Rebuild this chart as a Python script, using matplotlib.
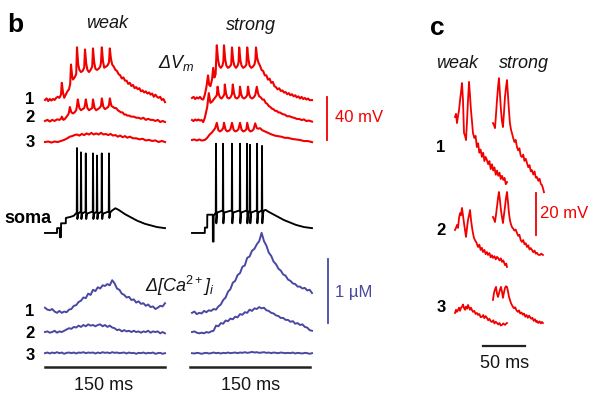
import numpy as np
import matplotlib
matplotlib.use("Agg")
import matplotlib.pyplot as plt

plt.rcParams["font.family"] = "Liberation Sans"
plt.rcParams["mathtext.fontset"] = "custom"
plt.rcParams["mathtext.rm"] = "Liberation Sans"
plt.rcParams["mathtext.it"] = "Liberation Sans:italic"
plt.rcParams["mathtext.default"] = "it"

# ---- data: (time ms, membrane potential mV) ----
vm_weak_1 = [(0, 0), (2, 1.5), (4, -1), (6, 1), (8, -0.5), (10, 1), (12, 0), (14, 2), (16, 3), (18, 2),
             (20, 5), (21, 16), (22.5, 7), (24, 2), (26, 5), (28, 8), (30, 10), (31.5, 15), (32.5, 33),
             (34, 22), (35, 19), (37, 21), (39, 24), (40, 49), (41.5, 33), (43, 28), (45, 26), (47, 27),
             (49, 30), (50, 47), (51.5, 34), (53, 28), (55, 26), (57, 28), (59, 31), (60, 48), (61.5, 35),
             (63, 29), (65, 28), (67, 29), (69, 31), (70, 35), (71, 49), (72.5, 36), (74, 30), (76, 31),
             (78, 32), (80, 35), (81, 48), (82.5, 38), (84, 33), (86, 31), (88, 28), (90, 27), (92, 24),
             (94, 23), (96, 20), (98, 21), (100, 18), (102, 18), (104, 15), (106, 16), (108, 13), (110, 14),
             (112, 11), (114, 12), (116, 10), (118, 11), (120, 8), (122, 9), (124, 7), (126, 8), (128, 6),
             (130, 7), (132, 5), (134, 6), (136, 3), (138, 5), (140, 3), (142, 2), (144, 3), (146, 0),
             (148, 1), (150, -2)]
vm_weak_2 = [(0, 0), (3, 1), (6, -0.5), (9, 1), (12, 0), (15, 1.5), (18, 1), (20, 2), (21, 4), (23, 1),
             (25, 2), (27, 4), (29, 6), (30, 8), (31, 13), (33, 8), (35, 7), (37, 8), (39, 10), (40, 14),
             (41, 20), (43, 12), (45, 10), (47, 11), (49, 12), (50, 15), (51, 20), (53, 12), (55, 10),
             (57, 11), (59, 12), (60, 20), (62, 12), (64, 10), (66, 11), (68, 12), (70, 14), (71, 21),
             (73, 13), (75, 11), (77, 12), (79, 13), (80, 15), (81, 21), (83, 14), (85, 13), (87, 12),
             (89, 12), (91, 10), (93, 9), (95, 8), (97, 8), (99, 6), (101, 6), (103, 5), (105, 5), (108, 4),
             (111, 4), (114, 3), (117, 3), (120, 2), (123, 3), (126, 1), (129, 2), (132, 1), (135, 1),
             (138, 0), (141, 1), (144, -1), (147, 0), (150, -1)]
vm_weak_3 = [(0, 0), (4, 0.5), (8, -0.5), (12, 0.5), (16, 0), (20, 1), (24, 2), (28, 3.5), (31, 5),
             (34, 5.5), (37, 6.5), (40, 7), (43, 6), (46, 7.5), (49, 6.5), (52, 8), (55, 7), (58, 8.5),
             (61, 7), (64, 8), (67, 7), (70, 8.5), (73, 7), (76, 7.5), (79, 6.5), (82, 7.5), (85, 6),
             (88, 6.5), (91, 5), (94, 6), (97, 4.5), (100, 5.5), (103, 4), (106, 5), (110, 3.5), (114, 3.5),
             (118, 2.5), (122, 3), (126, 1.5), (130, 2), (134, 1), (138, 1.5), (142, 0), (146, 1), (150, 0)]

vm_strong_1 = [(0, 0), (2, 1), (4, -1), (6, 0.5), (8, -0.5), (10, 1), (12, -1), (14, -1.5), (16, 3),
               (18, 10), (20, 21), (21.5, 12), (23, 11), (25, 17), (26.5, 28), (28, 19), (29.5, 22),
               (31, 49), (32.5, 36), (34, 30), (36, 28), (38, 30), (39.2, 34), (40, 49), (41.5, 36),
               (43, 30), (45, 28), (47, 29), (49, 31), (50, 47), (51.5, 35), (53, 30), (55, 28), (57, 30),
               (58.2, 33), (59, 47), (60.5, 35), (62, 30), (64, 28), (66, 29), (68, 31), (69, 47),
               (70.5, 36), (72, 30), (74, 28), (76, 29), (78, 31), (79.2, 35), (80, 47), (81.5, 37),
               (83, 33), (85, 30), (87, 26), (89, 25), (91, 21), (93, 21), (95, 17), (97, 18), (99, 14),
               (101, 15), (103, 11), (105, 10), (107, 8), (109, 9), (111, 6.5), (113, 7), (115, 5),
               (117, 5.5), (119, 3.5), (121, 4.5), (123, 2.5), (125, 3.5), (127, 1.5), (129, 2.5),
               (131, 0.5), (133, 1.5), (135, -0.5), (137, 1), (139, -1), (141, 0), (143, -1.5),
               (145, -0.5), (147, -2), (150, -2)]
vm_strong_2 = [(0, 0), (2, -1), (4, 0.5), (6, -0.5), (8, 0.5), (10, -0.5), (12, 0), (14, -2), (16, 2),
               (19, 12), (21, 25), (23, 16), (25, 17), (27, 19), (29, 21), (31, 23), (32, 31), (33.5, 24),
               (35, 21), (37, 20), (39, 22), (40.5, 24), (41, 33), (42.5, 25), (44, 21), (46, 20), (48, 21),
               (50, 24), (51, 33), (52.5, 25), (54, 21), (56, 20), (58, 21), (59.3, 23), (60, 31),
               (61.5, 24), (63, 21), (65, 20), (67, 21), (69, 23), (70, 31), (71.5, 24), (73, 21), (75, 20),
               (77, 21), (79, 23), (81, 31), (82.5, 25), (84, 22), (86, 21), (88, 19), (90, 19), (92, 16),
               (94, 15), (96, 13), (98, 12), (100, 10.5), (102, 10), (104, 8.5), (106, 8.5), (108, 7),
               (110, 7), (113, 5.5), (116, 5), (119, 3.5), (122, 3.5), (125, 2.5), (128, 2), (131, 1),
               (134, 1), (137, 0), (140, 0.5), (143, -1), (146, -0.5), (150, -1.5)]
vm_strong_3 = [(0, 0), (3, 0.5), (6, -0.5), (9, 0.5), (12, -0.5), (16, 0), (19, 2), (22, 5), (25, 7),
               (27, 9), (29, 11), (31, 16), (33, 9), (35, 8), (37, 9), (39, 11), (40, 16), (42, 9.5),
               (44, 8), (46, 8.5), (48, 10), (50, 16), (52, 9.5), (54, 8), (56, 8.5), (58, 10), (60, 16),
               (62, 9.5), (64, 8), (66, 8.5), (68, 10), (69, 16), (71, 9.5), (73, 8), (75, 8.5), (77, 10),
               (79, 15.5), (81, 11), (83, 10.5), (85, 11), (88, 9), (91, 8), (94, 7), (97, 6), (100, 5),
               (104, 4), (108, 3.5), (112, 3), (116, 2), (120, 2), (125, 1), (130, 0.5), (135, 0),
               (140, -1), (145, -1), (150, -2)]

soma_weak = [(0, 0), (15, 0), (15.1, 4.5), (18.5, 4.5), (18.6, -4), (20, -4), (20.1, 9), (26, 9),
             (26.1, 14), (32, 15), (36, 16), (39.7, 19), (40, 79), (40.5, 13), (41.5, 18), (44.7, 20),
             (45, 75), (45.5, 13), (46.5, 18), (50.7, 20), (51, 74), (51.5, 13), (52.5, 18), (59.7, 20),
             (60, 74), (60.5, 13), (61.5, 18), (64.7, 20), (65, 72), (65.5, 13), (66.5, 18), (70.7, 20),
             (71, 74), (71.5, 13), (72.5, 18), (79.7, 20), (80, 74), (80.5, 14), (81.5, 19), (84, 21),
             (86, 22), (88, 23), (92, 21.5), (96, 19.5), (100, 17.5), (105, 15.5), (110, 13.5),
             (115, 11.5), (120, 10), (125, 8.5), (130, 7.5), (135, 6.5), (140, 5.5), (145, 5), (150, 4.5)]
soma_strong = [(0, 0), (16, 0), (16.1, 5), (19, 5), (19.1, 17), (26, 17), (26.1, -8), (27, -8),
               (27.1, 16), (29.7, 19), (30, 83), (30.4, 9), (31.5, 19), (38.5, 21), (38.8, 83), (39.2, 9),
               (40.3, 19), (49.7, 21), (50, 83), (50.4, 9), (51.5, 19), (59.7, 21), (60, 83), (60.4, 9),
               (61.5, 19), (68.5, 21), (68.8, 83), (69.2, 9), (70.3, 19), (72.2, 21), (72.5, 82),
               (72.9, 9), (74, 19), (81, 21), (81.3, 83), (81.7, 9), (82.8, 19), (87.2, 21), (87.5, 81),
               (87.9, 9), (89, 19), (90, 21), (92, 21.5), (95, 20), (100, 18), (105, 16), (110, 14),
               (115, 12), (120, 10.5), (125, 9), (130, 7.5), (135, 6.5), (140, 5.5), (145, 5), (150, 4.5)]

# calcium (uM), sampled every 3 ms from 0 to 150 ms
ca_t = np.arange(0, 151, 3)
ca_weak_1 = [0.02, -0.01, -0.02, 0.0, -0.04, -0.06, -0.03, -0.06, -0.04, -0.05,
             -0.01, 0.0, 0.05, 0.06, 0.11, 0.13, 0.18, 0.17, 0.24, 0.22,
             0.30, 0.28, 0.34, 0.32, 0.37, 0.36, 0.39, 0.37, 0.45, 0.40,
             0.32, 0.30, 0.24, 0.22, 0.18, 0.19, 0.14, 0.15, 0.10, 0.12,
             0.08, 0.09, 0.05, 0.07, 0.03, 0.04, 0.0, 0.02, 0.05, 0.04, 0.09]
ca_weak_2 = [0, 0.01, -0.01, 0.0, 0.02, -0.01, 0.01, 0.0, 0.02, 0.04,
             0.06, 0.05, 0.08, 0.07, 0.10, 0.08, 0.11, 0.09, 0.12, 0.10,
             0.11, 0.09, 0.11, 0.12, 0.09, 0.11, 0.08, 0.10, 0.07, 0.06,
             0.03, 0.04, 0.01, 0.03, 0.01, 0.02, 0.0, 0.02, 0.0, 0.01,
             -0.01, 0.01, 0.0, 0.02, -0.01, 0.01, 0.0, 0.01, -0.02, 0.0, -0.02]
ca_weak_3 = [0, 0.01, -0.005, 0.01, 0, 0.015, 0, 0.01, -0.01, 0.005,
             0.01, 0, 0.01, -0.005, 0.01, 0.005, 0.015, 0, 0.01, 0.005,
             0.01, -0.005, 0.01, 0, 0.015, 0.005, 0.01, 0, 0.015, 0.005,
             0.01, 0, 0.005, 0.01, -0.005, 0.01, 0, 0.005, -0.01, 0.005,
             0, 0.01, -0.005, 0.005, 0, 0.01, -0.01, 0, 0.005, -0.01, 0]
ca_strong_1 = [0, 0.02, -0.02, 0.0, -0.01, 0.03, 0.01, 0.04, 0.03, 0.06,
               0.05, 0.10, 0.13, 0.20, 0.24, 0.33, 0.37, 0.47, 0.50, 0.59,
               0.62, 0.72, 0.74, 0.86, 0.88, 0.97, 1.00, 1.07, 1.12, 1.25,
               1.12, 1.05, 0.94, 0.89, 0.80, 0.76, 0.69, 0.66, 0.60, 0.58,
               0.52, 0.50, 0.46, 0.45, 0.41, 0.41, 0.38, 0.39, 0.35, 0.36, 0.31]
ca_strong_2 = [0, 0.01, -0.01, -0.02, -0.01, -0.02, 0.0, -0.01, 0.01, 0.02,
               0.10, 0.09, 0.14, 0.13, 0.18, 0.17, 0.21, 0.20, 0.24, 0.23,
               0.28, 0.27, 0.31, 0.30, 0.35, 0.33, 0.37, 0.36, 0.39, 0.37,
               0.38, 0.34, 0.33, 0.30, 0.29, 0.26, 0.25, 0.22, 0.22, 0.19,
               0.19, 0.16, 0.17, 0.13, 0.14, 0.11, 0.12, 0.08, 0.07, 0.03, 0.02]
ca_strong_3 = [0, -0.005, 0.005, 0, -0.01, 0, 0.005, -0.005, 0, 0.01,
               0, 0.005, -0.005, 0.005, 0, 0.01, 0, 0.005, 0.01, 0,
               0.01, 0.005, 0.015, 0.005, 0.01, 0.02, 0.01, 0.015, 0.005, 0.01,
               0.015, 0.005, 0.01, 0, 0.01, 0.005, 0, 0.01, 0.005, 0,
               0.005, 0, 0.01, -0.005, 0.005, 0, -0.005, 0.005, 0, -0.01, 0]

# panel c: (time ms, mV)
c_weak_1 = [(0, 0), (1.2, 1.5), (2.4, -2.9), (3.6, 0.5), (4.8, 3.3), (6, 8), (7.2, 12), (8.3, 16.2),
            (9.5, 8.1), (10.7, -7.6), (12, -9), (13.1, -11), (14.3, -2), (15.5, 8.1), (16.7, 16.7),
            (17.9, 10), (19, 3.3), (20.2, -2), (21.4, -7.6), (23, -10), (24.5, -9), (26, -14.3),
            (27.5, -12.5), (29, -17), (30.5, -15.5), (32, -19), (33.5, -17), (35, -21), (36.5, -19),
            (38, -20.5), (39.5, -22.5), (41, -21), (42.5, -24.8), (44, -22.5), (45.5, -25.5), (47, -24),
            (48.5, -27.5), (50, -25.5), (51.5, -28), (53, -26.5), (54.5, -29.5), (56, -28), (57.5, -30),
            (59, -29), (60.5, -32), (62, -31)]
c_strong_1 = [(0, 0), (1.2, -1), (2.4, -2.4), (3.6, 4), (4.8, 11), (6, 17), (7.1, 21.4), (8.3, 14),
              (9.5, 6.2), (10.7, 1), (11.9, -1.9), (13.1, 5), (14.3, 12.4), (15.5, 17), (16.7, 20.5),
              (17.9, 13), (19, 6.2), (20.2, 0), (21.4, -3), (22.6, -4.8), (24, -7), (25.5, -9), (27, -8),
              (28.6, -11.4), (30, -13), (31.5, -12), (33, -15.5), (34.5, -16.2), (36, -15), (37.5, -18),
              (39, -17), (40.5, -19), (42, -21), (43.5, -20), (45, -23), (46.4, -22.4), (48, -24.5),
              (49.5, -23), (51, -26), (52.4, -25.7), (54, -27.5), (55.5, -26.5), (57, -29), (58.3, -29.5),
              (59.5, -31), (60.7, -32.9)]
c_weak_2 = [(0, 0), (1.2, 1), (2.4, 2.4), (3.6, 1), (4.8, 5.7), (6, 8), (7.2, 7), (8.3, 10.5), (9.5, 7),
            (10.7, 3.3), (11.9, 0), (13.1, -3.3), (14.3, 1), (15.5, 4.8), (16.7, 7), (17.9, 9.5), (19, 5),
            (20.2, 1.4), (21.4, -1.5), (22.6, -3.8), (24, -5), (25.5, -6), (27.4, -8.1), (29, -7),
            (30.5, -9.5), (32, -8.5), (33.3, -10.5), (35, -9.5), (36.5, -11.5), (38, -10.5), (39.3, -11.9),
            (41, -11), (42.5, -13), (44, -12), (45.2, -13.3), (47, -12.5), (48.5, -14), (50, -12.8),
            (51.2, -13.3), (53, -14.5), (54.5, -13.5), (56, -15.2), (57.5, -14.5), (59.5, -16.7),
            (61, -16), (61.9, -17.6)]
c_strong_2 = [(0, 0), (1.2, -1), (2.4, -2.4), (3.6, 1), (4.8, 4.8), (6, 9), (7.1, 11.9), (8.3, 8),
              (9.5, 3.3), (10.7, 0), (11.9, -2.9), (13.1, 1), (14.3, 4.8), (15.5, 9), (16.7, 11.9),
              (17.9, 7), (19, 1.9), (20.2, -1.5), (21.4, -3.5), (22.6, -4.8), (24, -5.5), (25.5, -6.5),
              (27, -6), (28.6, -7.6), (30, -9), (31.5, -8.5), (33, -11), (34.5, -11.9), (36, -11),
              (37.5, -13), (39, -12.5), (40.5, -14.3), (42, -13.5), (43.5, -15.5), (45, -14.8),
              (46.4, -15.7), (48, -16.8), (49.5, -16), (51, -17.5), (52.4, -17.1), (54, -18), (56, -18.1),
              (57.5, -17.5), (59.5, -18.1)]
c_weak_3 = [(0, 0), (1.2, 1.5), (2.4, 0.5), (3.6, 1.4), (4.8, 2.5), (6, 1), (7.2, 2.5), (8.3, 2.9),
            (9.5, 4), (10.7, 2.4), (11.9, 1.5), (13.1, 3), (14.3, 2), (15.5, 3.8), (16.7, 2.5), (17.9, 1.5),
            (19, 2.5), (20.2, 1.4), (21.4, 0.5), (23, 1), (24.5, -0.5), (26.2, 0), (27.5, -1), (29, -0.5),
            (30.5, -2), (32.1, -1.9), (33.5, -1), (35, -2.5), (36.5, -1.5), (38.1, -2.4), (39.5, -3.5),
            (41, -2.8), (42.5, -4), (44, -4.3), (45.5, -3.5), (47, -5), (48.5, -4.2), (50, -4.8),
            (51.5, -5.5), (53, -4.8), (54.5, -6), (56, -5.7), (57.5, -5), (59.5, -5.7), (60.7, -5.2),
            (61.9, -4.8)]
c_strong_3 = [(0, 0), (1.2, 3.3), (2.4, 5), (3.6, 6.2), (4.8, 3), (6, 1.4), (7.1, 3), (8.3, 4.8),
              (9.5, 6.2), (10.7, 4), (11.9, 1), (13.1, 3.5), (14.3, 5.7), (15.5, 6.5), (16.7, 6.2),
              (17.9, 4), (19, 1.5), (20.2, 0), (21.4, -1.5), (22.6, -2.5), (23.8, -3.3), (25, -4),
              (26.5, -3.5), (28, -5), (29.8, -5.7), (31, -5), (32.5, -6.5), (34, -6), (35.7, -7.1),
              (37, -6.5), (38.5, -8), (40, -7.2), (41.5, -8.5), (43, -7.5), (44, -8.1), (45.5, -9),
              (47, -8.5), (48.5, -10), (50, -9.2), (51.5, -10.5), (52.4, -10), (54, -11), (55.5, -10.2),
              (57, -11.2), (58.3, -10.5), (59.5, -11)]

# ---- layout (pixels of the 599x397 picture) ----
W, H = 599, 397
RED = "#f20000"
BLUE = "#4848a2"
INK = "#151515"

fig = plt.figure(figsize=(W / 100, H / 100), dpi=100)


def trace_axes(x0, y0, sx, sy):
    # full-figure invisible axes; data (0, 0) sits at pixel (x0, y0), sx/sy = pixels per unit
    ax = fig.add_axes([0, 0, 1, 1])
    ax.set_xlim(-x0 / sx, (W - x0) / sx)
    ax.set_ylim(-(H - y0) / sy, y0 / sy)
    ax.axis("off")
    return ax


def draw(ax, data, dt, dv, color, lw=1.5):
    a = np.asarray(data, dtype=float)
    ax.plot(a[:, 0] + dt, a[:, 1] + dv, color=color, lw=lw, solid_joinstyle="round")


def label(x, y, s, **kw):
    kw.setdefault("ha", "center")
    kw.setdefault("va", "center")
    kw.setdefault("color", INK)
    fig.text(x / W, 1 - y / H, s, **kw)


# panel b, membrane potential + soma (ms, mV)
ax_vm = trace_axes(45, 100, 0.8, 1.075)
strong_dt = 183.75
for d, dv in zip([vm_weak_1, vm_weak_2, vm_weak_3], [0, -19.5, -39.1]):
    draw(ax_vm, d, 0, dv, RED)
for d, dv in zip([vm_strong_1, vm_strong_2, vm_strong_3], [1.9, -18.6, -37.2]):
    draw(ax_vm, d, strong_dt, dv, RED)
draw(ax_vm, soma_weak, 0, -123.7, "black", 1.35)
draw(ax_vm, soma_strong, strong_dt, -123.7, "black", 1.35)
ax_vm.plot([352.5, 352.5], [-37.2, -37.2 + 40], color=RED, lw=1.3)  # 40 mV bar

# panel b, calcium (ms, uM)
ax_ca = trace_axes(45, 309, 0.8, 64)
for d, dv in zip([ca_weak_1, ca_weak_2, ca_weak_3], [0, -0.36, -0.69]):
    ax_ca.plot(ca_t, np.array(d) + dv, color=BLUE, lw=1.4)
for d, dv in zip([ca_strong_1, ca_strong_2, ca_strong_3], [-0.06, -0.36, -0.69]):
    ax_ca.plot(ca_t + strong_dt, np.array(d) + dv, color=BLUE, lw=1.4)
ax_ca.plot([353.75, 353.75], [-0.22, 0.78], color=BLUE, lw=1.3)  # 1 uM bar
ax_ca.plot([0, 150], [-0.906, -0.906], color="#222222", lw=1.8)
ax_ca.plot([181.5, 331.5], [-0.906, -0.906], color="#222222", lw=1.8)

# panel c (ms, mV)
ax_c = trace_axes(455, 117, 0.84, 2.1)
c_strong_dt = 45.2
for d, dv in zip([c_weak_1, c_weak_2, c_weak_3], [0, -53.8, -93.3]):
    draw(ax_c, d, 0, dv, RED, 1.3)
for d, dv in zip([c_strong_1, c_strong_2, c_strong_3], [-2.9, -47.6, -87.1]):
    draw(ax_c, d, c_strong_dt, dv, RED, 1.3)
ax_c.plot([96.4, 96.4], [-56.2, -36.2], color=RED, lw=1.3)  # 20 mV bar
ax_c.plot([33.3, 83.3], [-109, -109], color="#222222", lw=1.6)  # 50 ms bar

# ---- text ----
label(15, 25, "b", fontsize=19, fontweight="bold", color="black")
label(107, 24, "weak", fontsize=13, style="italic")
label(251, 25, "strong", fontsize=13, style="italic")
label(176, 63, "\u0394V$_m$", fontsize=13, style="italic")
for y, s in zip([100, 118, 143], ["1", "2", "3"]):
    label(30, y, s, fontsize=12, fontweight="bold", color="black")
label(28, 219, "soma", fontsize=13, fontweight="bold", color="black")
for y, s in zip([311, 333, 356], ["1", "2", "3"]):
    label(30, y, s, fontsize=12, fontweight="bold", color="black")
label(180, 286, "\u0394[Ca$^{2+}$]$_i$", fontsize=13, style="italic")
label(104, 386, "150 ms", fontsize=13)
label(251, 386, "150 ms", fontsize=13)
label(335, 118, "40 mV", fontsize=12, ha="left", color=RED)
label(335, 292, "1 \u00b5M", fontsize=12, ha="left", color=BLUE)

label(437, 28, "c", fontsize=19, fontweight="bold", color="black")
label(457, 63, "weak", fontsize=13, style="italic")
label(524, 63, "strong", fontsize=13, style="italic")
for y, s in zip([147, 230, 308], ["1", "2", "3"]):
    label(441, y, s, fontsize=12, fontweight="bold", color="black")
label(540, 214, "20 mV", fontsize=12, ha="left", color=RED)
label(505, 363, "50 ms", fontsize=13)

fig.savefig("out.png", dpi=100)
